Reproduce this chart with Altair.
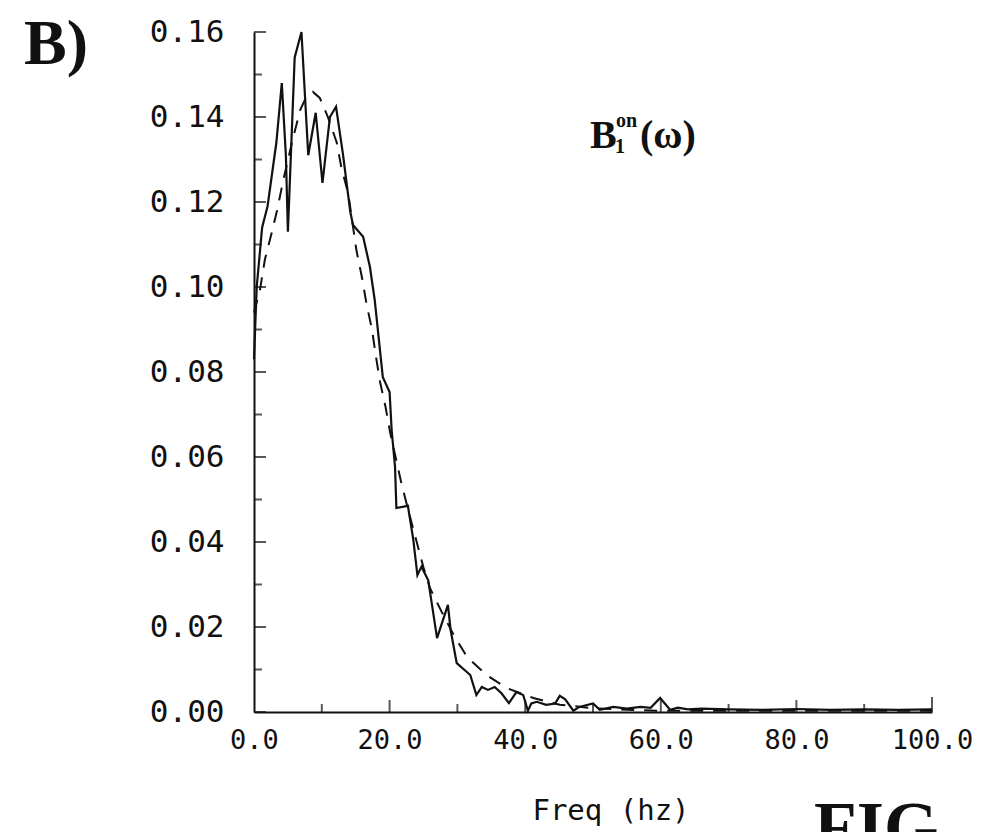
import altair as alt
import pandas as pd

# ---- data ----
solid_freq = [0.0, 0.4, 1.2, 2.0, 3.3, 4.1, 4.7, 5.0, 6.0, 7.0, 8.0, 9.1, 10.1, 11.2, 12.1,
              13.1, 14.2, 14.6, 16.1, 17.1, 17.8, 19.0, 20.0, 20.3, 20.8, 21.0, 22.7, 23.5,
              24.1, 24.7, 25.7, 27.0, 28.6, 29.0, 29.9, 31.9, 32.8, 33.6, 34.5, 35.5, 36.5,
              37.6, 38.7, 39.7, 40.4, 40.9, 41.7, 43.1, 44.4, 45.1, 45.9, 47.1, 48.0, 50.0,
              51.0, 53.0, 55.0, 57.0, 58.5, 59.9, 61.4, 62.5, 64.0, 66.0, 70.0, 75.0, 80.0,
              85.0, 90.0, 95.0, 100.0]
solid_val = [0.083, 0.100, 0.114, 0.119, 0.134, 0.148, 0.131, 0.113, 0.154, 0.160, 0.131,
             0.141, 0.1245, 0.140, 0.1424, 0.1315, 0.1177, 0.1146, 0.1118, 0.1047, 0.097,
             0.0788, 0.0753, 0.0664, 0.0577, 0.048, 0.0485, 0.0405, 0.0322, 0.0342, 0.031,
             0.0174, 0.0252, 0.0193, 0.0115, 0.0087, 0.004, 0.0059, 0.0052, 0.0059, 0.0044,
             0.0021, 0.0047, 0.004, 0.0003, 0.002, 0.0024, 0.0017, 0.002, 0.0038, 0.003,
             0.0003, 0.0012, 0.002, 0.0005, 0.0012, 0.0008, 0.0012, 0.001, 0.0033, 0.0005,
             0.001, 0.0006, 0.0008, 0.0006, 0.0005, 0.0007, 0.0005, 0.0006, 0.0005, 0.0006]

fit_freq = [0.0, 0.9, 1.6, 2.6, 3.4, 4.3, 5.6, 6.8, 7.5, 8.7, 9.7, 10.9, 12.2, 12.9, 13.9,
            15.1, 15.9, 16.6, 17.4, 18.0, 18.6, 19.4, 20.1, 21.8, 23.0, 24.0, 25.0, 26.0,
            27.7, 29.5, 31.4, 34.3, 37.3, 41.2, 45.1, 50.0, 55.0, 60.0, 70.0, 80.0, 90.0, 100.0]
fit_val = [0.094, 0.0995, 0.1064, 0.1127, 0.118, 0.125, 0.134, 0.1416, 0.144, 0.1459, 0.1445,
           0.140, 0.134, 0.128, 0.122, 0.1087, 0.1024, 0.096, 0.090, 0.0835, 0.0776, 0.0718,
           0.0656, 0.0534, 0.046, 0.040, 0.034, 0.029, 0.0235, 0.018, 0.013, 0.0087, 0.0056,
           0.0033, 0.0017, 0.0009, 0.0005, 0.0003, 0.0003, 0.0003, 0.0003, 0.0003]

x_labels = [0, 20, 40, 60, 80, 100]
x_minor_ticks = [10, 30, 50, 70, 90]
x_major_ticks = [20, 40, 60, 80]
x_end_ticks = [100]
y_labels = [0.0, 0.02, 0.04, 0.06, 0.08, 0.10, 0.12, 0.14, 0.16]
y_minor_ticks = [0.01, 0.03, 0.05, 0.07, 0.09, 0.11, 0.13, 0.15]

MONO = "DejaVu Sans Mono"
SERIF = "Liberation Serif"
INK = "#111111"

xs = alt.Scale(domain=[0, 100], nice=False, zero=False)
ys = alt.Scale(domain=[0, 0.16], nice=False, zero=False)
xaxis = alt.Axis(values=x_labels, format=".1f", title=None, labelPadding=15, labelFontSize=27)
yaxis = alt.Axis(values=y_labels, format=".2f", title=None, labelPadding=30, labelFontSize=31)

solid_df = pd.DataFrame({"f": solid_freq, "v": solid_val})
fit_df = pd.DataFrame({"f": fit_freq, "v": fit_val})


def enc_xy():
    return dict(x=alt.X("f:Q", scale=xs, axis=xaxis), y=alt.Y("v:Q", scale=ys, axis=yaxis))


solid = alt.Chart(solid_df).mark_line(color=INK, strokeWidth=2.2).encode(
    order="f:Q", **enc_xy())

fit = alt.Chart(fit_df).mark_line(color=INK, strokeWidth=2, strokeDash=[13, 10]).encode(
    order="f:Q", **enc_xy())


def xticks(vals, length):
    df = pd.DataFrame({"f": vals, "v": [0.0] * len(vals)})
    return alt.Chart(df).mark_tick(
        orient="vertical", size=length, thickness=2, color=INK, yOffset=-length / 2
    ).encode(**enc_xy())


def yticks(vals, length):
    df = pd.DataFrame({"v": vals, "f": [0.0] * len(vals)})
    return alt.Chart(df).mark_tick(
        orient="horizontal", size=length, thickness=2, color=INK, xOffset=length / 2
    ).encode(**enc_xy())


def label(text, x, y, font, size, weight="normal", align="left"):
    return alt.Chart(alt.Data(values=[{}])).mark_text(
        text=text, font=font, fontSize=size, fontWeight=weight, color=INK,
        align=align, baseline="alphabetic"
    ).encode(x=alt.value(x), y=alt.value(y))


layers = [
    solid, fit,
    xticks(x_minor_ticks, 8), xticks(x_major_ticks, 12), xticks(x_end_ticks, 15),
    yticks(y_minor_ticks, 8), yticks(y_labels, 12),
    label("B)", -230, 32, SERIF, 64, "bold"),
    label("Freq (hz)", 357, 788, MONO, 29, "normal", "center"),
    label("FIG. 4", 560, 818, SERIF, 70, "bold"),
    label("B", 336, 116, SERIF, 40, "bold"),
    label("1", 361, 121, SERIF, 20, "bold"),
    label("on", 362, 95, SERIF, 20, "bold"),
    label("(ω)", 386, 116, SERIF, 40, "bold"),
]

chart = alt.layer(*layers).properties(
    width=678, height=680,
    autosize=alt.AutoSizeParams(type="none"),
    padding={"left": 246, "top": 24, "right": 41, "bottom": 120},
    background="white",
).configure_view(stroke=None).configure_axis(
    ticks=False, grid=False, domain=True, domainColor=INK, domainWidth=2,
    labelFont=MONO, labelColor=INK, labelFlush=False, labelOverlap=False,
)

chart.save("out.html", embed_options={"renderer": "svg", "actions": False})
